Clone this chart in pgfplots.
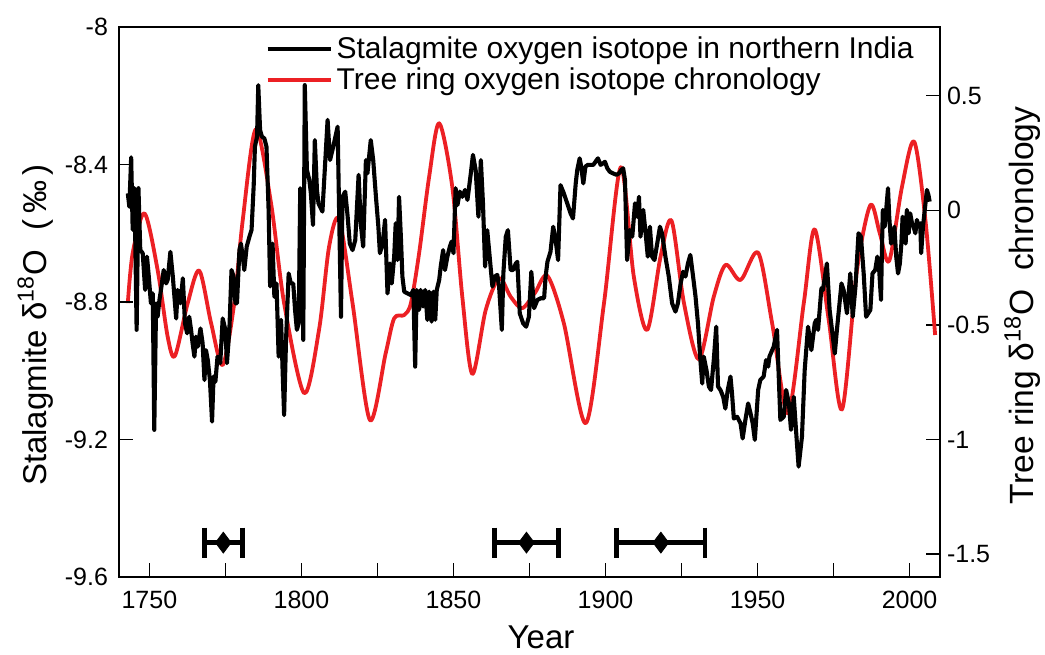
\documentclass[border=0pt]{standalone}
\usepackage{fontspec}
\setmainfont{Liberation Sans}
\usepackage{pgfplots}
\pgfplotsset{compat=1.18}
\definecolor{trred}{RGB}{236,32,36}

\pgfplotstableread{
yr val
1742.9 -0.405
1744.5 -0.187
1748.4 -0.013
1752.7 -0.26
1756.0 -0.551
1758.4 -0.635
1762.6 -0.405
1766.4 -0.263
1770.3 -0.493
1774.1 -0.675
1777.9 -0.405
1780.7 -0.042
1785.0 0.354
1790.0 0.031
1794.3 -0.405
1800.9 -0.798
1805.8 -0.52
1809.1 -0.158
1812.4 -0.039
1816.8 -0.405
1822.5 -0.915
1827.7 -0.624
1830.5 -0.471
1833.8 -0.457
1836.0 -0.405
1838.7 -0.187
1842.0 0.147
1845.3 0.380
1849.6 0.103
1852.9 -0.377
1856.2 -0.714
1860.6 -0.435
1865.0 -0.297
1868.8 -0.377
1872.6 -0.427
1876.8 -0.36
1880.9 -0.286
1886.3 -0.493
1893.5 -0.929
1899.5 -0.405
1905.0 0.188
1909.3 -0.289
1913.7 -0.522
1918.1 -0.202
1921.7 -0.045
1925.8 -0.405
1930.7 -0.650
1935.6 -0.377
1939.5 -0.238
1944.4 -0.304
1950.2 -0.185
1954.8 -0.493
1960.0 -0.886
1965.2 -0.405
1968.8 -0.083
1973.4 -0.478
1977.8 -0.868
1982.7 -0.26
1987.1 0.023
1990.2 -0.10
1993.3 -0.220
1997.5 0.103
2001.5 0.300
2005.2 -0.042
2008.4 -0.544
}\treering

\pgfplotstableread{
yr val
1742.9 -8.484
1743.4 -8.523
1744.0 -8.379
1744.5 -8.590
1745.1 -8.469
1745.8 -8.881
1746.4 -8.469
1747.0 -8.649
1747.8 -8.658
1748.6 -8.765
1749.2 -8.668
1749.8 -8.726
1750.5 -8.804
1751.1 -8.775
1751.6 -9.172
1752.2 -8.804
1752.7 -8.843
1753.3 -8.794
1753.8 -8.765
1754.7 -8.707
1755.5 -8.746
1756.0 -8.736
1756.9 -8.654
1757.7 -8.726
1758.8 -8.848
1759.3 -8.765
1760.2 -8.804
1761.0 -8.731
1761.7 -8.862
1762.4 -8.891
1763.1 -8.843
1763.7 -8.881
1764.2 -8.920
1764.8 -8.959
1765.3 -8.901
1765.9 -8.930
1766.8 -8.877
1767.5 -8.920
1768.1 -9.027
1768.6 -8.940
1769.2 -8.969
1769.9 -9.027
1770.6 -9.148
1771.1 -9.017
1771.7 -9.032
1772.4 -8.959
1773.3 -8.978
1774.1 -8.848
1775.0 -8.881
1775.5 -8.978
1776.3 -8.881
1777.0 -8.707
1777.7 -8.726
1778.3 -8.804
1778.8 -8.804
1779.6 -8.649
1780.1 -8.630
1780.7 -8.668
1781.2 -8.707
1782.0 -8.639
1782.9 -8.610
1783.6 -8.590
1784.3 -8.460
1784.7 -8.348
1785.4 -8.319
1785.8 -8.169
1786.4 -8.300
1787.0 -8.319
1787.8 -8.324
1788.5 -8.348
1789.2 -8.532
1789.7 -8.755
1790.5 -8.630
1791.1 -8.785
1791.8 -8.746
1792.5 -8.959
1793.3 -8.852
1793.8 -8.998
1794.3 -9.129
1794.9 -8.920
1795.4 -8.804
1795.8 -8.717
1796.5 -8.746
1797.3 -8.746
1797.9 -8.823
1798.5 -8.881
1799.1 -8.862
1799.6 -8.469
1800.2 -8.494
1800.6 -8.910
1801.1 -8.169
1801.8 -8.416
1802.6 -8.445
1803.1 -8.484
1803.8 -8.576
1804.4 -8.329
1805.1 -8.474
1805.6 -8.513
1806.9 -8.537
1808.6 -8.270
1809.4 -8.387
1810.2 -8.358
1811.9 -8.290
1812.4 -8.542
1813.0 -8.843
1813.5 -8.494
1814.4 -8.479
1815.2 -8.552
1815.9 -8.630
1816.8 -8.649
1817.7 -8.620
1818.8 -8.430
1819.5 -8.571
1820.3 -8.639
1821.2 -8.387
1821.7 -8.426
1822.8 -8.329
1823.6 -8.387
1824.5 -8.494
1825.3 -8.581
1825.8 -8.658
1826.7 -8.630
1827.5 -8.561
1828.3 -8.775
1829.1 -8.688
1829.7 -8.746
1830.5 -8.668
1831.0 -8.571
1831.6 -8.678
1832.1 -8.494
1832.7 -8.610
1833.2 -8.726
1833.8 -8.770
1834.9 -8.775
1836.0 -8.780
1836.8 -8.765
1837.4 -8.988
1837.9 -8.765
1838.7 -8.823
1839.2 -8.765
1840.0 -8.813
1840.7 -8.765
1841.4 -8.852
1842.0 -8.770
1842.8 -8.857
1843.4 -8.770
1844.0 -8.852
1844.5 -8.765
1845.3 -8.736
1845.8 -8.697
1846.6 -8.649
1847.2 -8.707
1848.0 -8.668
1848.8 -8.639
1849.4 -8.624
1850.0 -8.658
1850.7 -8.469
1851.3 -8.518
1852.1 -8.479
1852.9 -8.494
1853.8 -8.474
1854.6 -8.503
1855.7 -8.426
1856.4 -8.372
1857.3 -8.416
1858.2 -8.552
1859.0 -8.387
1859.7 -8.513
1860.4 -8.697
1861.1 -8.591
1861.9 -8.668
1862.8 -8.755
1863.6 -8.726
1864.4 -8.721
1865.0 -8.755
1865.9 -8.881
1866.4 -8.717
1867.2 -8.610
1867.9 -8.591
1868.8 -8.707
1869.6 -8.707
1870.5 -8.688
1871.0 -8.683
1871.8 -8.833
1872.9 -8.862
1873.9 -8.872
1874.8 -8.843
1875.6 -8.712
1876.5 -8.818
1877.6 -8.794
1878.7 -8.789
1879.8 -8.789
1880.3 -8.726
1880.9 -8.683
1881.9 -8.654
1882.8 -8.581
1883.6 -8.620
1884.4 -8.678
1885.2 -8.460
1886.3 -8.484
1887.4 -8.513
1888.5 -8.542
1889.3 -8.557
1890.2 -8.455
1890.7 -8.416
1891.5 -8.382
1892.0 -8.406
1892.7 -8.455
1893.4 -8.406
1894.2 -8.401
1895.1 -8.401
1896.0 -8.401
1896.7 -8.392
1897.5 -8.382
1898.4 -8.401
1899.1 -8.397
1899.8 -8.392
1900.6 -8.411
1901.4 -8.421
1902.5 -8.426
1903.6 -8.430
1904.4 -8.426
1905.2 -8.416
1905.8 -8.411
1906.4 -8.445
1907.1 -8.678
1908.0 -8.591
1908.8 -8.610
1909.7 -8.513
1910.4 -8.552
1911.0 -8.494
1911.5 -8.610
1912.4 -8.532
1913.2 -8.601
1913.9 -8.668
1914.6 -8.581
1915.3 -8.668
1916.1 -8.678
1917.0 -8.630
1917.9 -8.581
1918.6 -8.601
1919.7 -8.668
1920.8 -8.726
1921.9 -8.804
1923.0 -8.828
1923.8 -8.804
1924.7 -8.746
1925.5 -8.712
1926.3 -8.726
1927.1 -8.688
1927.9 -8.663
1928.8 -8.726
1929.6 -8.784
1930.4 -8.862
1931.2 -8.969
1931.8 -9.037
1932.3 -8.959
1933.2 -8.998
1934.0 -9.046
1934.7 -9.056
1935.6 -8.969
1936.4 -8.872
1937.0 -9.046
1937.8 -9.056
1938.7 -9.076
1939.4 -9.110
1940.2 -9.056
1941.1 -9.017
1941.6 -9.066
1942.2 -9.139
1943.3 -9.134
1944.4 -9.153
1945.1 -9.197
1946.0 -9.143
1946.9 -9.095
1947.7 -9.124
1948.4 -9.153
1949.1 -9.201
1950.2 -9.056
1950.9 -9.027
1952.0 -9.017
1952.8 -8.969
1953.5 -8.988
1953.9 -8.959
1955.3 -8.930
1956.4 -8.881
1957.5 -9.143
1958.6 -9.134
1959.4 -9.056
1960.3 -9.095
1961.0 -9.172
1961.9 -9.076
1962.8 -9.192
1963.5 -9.279
1964.6 -9.192
1965.5 -8.998
1966.6 -8.872
1967.7 -8.940
1968.8 -8.862
1969.3 -8.852
1969.9 -8.881
1971.0 -8.760
1971.5 -8.765
1972.8 -8.688
1973.7 -8.823
1975.4 -8.950
1976.1 -8.881
1977.6 -8.746
1978.3 -8.765
1979.4 -8.833
1980.5 -8.717
1981.3 -8.843
1982.2 -8.755
1983.2 -8.600
1984.0 -8.610
1984.9 -8.717
1985.7 -8.843
1987.1 -8.823
1987.8 -8.717
1988.7 -8.707
1989.4 -8.668
1990.0 -8.707
1990.6 -8.794
1990.9 -8.649
1991.2 -8.532
1991.8 -8.581
1992.3 -8.532
1992.9 -8.469
1993.3 -8.552
1993.9 -8.630
1994.4 -8.620
1995.0 -8.581
1995.6 -8.668
1996.2 -8.717
1996.8 -8.688
1997.3 -8.630
1997.7 -8.552
1998.2 -8.561
1998.7 -8.630
1999.1 -8.532
1999.7 -8.600
2000.2 -8.542
2000.8 -8.571
2001.3 -8.581
2001.9 -8.600
2002.4 -8.561
2002.9 -8.581
2003.5 -8.571
2003.8 -8.658
2004.4 -8.581
2005.1 -8.523
2005.7 -8.474
2006.2 -8.489
2006.6 -8.508
}\stalag

\begin{document}
\begin{tikzpicture}
\pgfplotsset{
  common/.style={
    scale only axis, width=410.5pt, height=275pt,
    xmin=1740, xmax=2010,
    tick align=inside,
    major tick length=7pt, minor tick length=7pt,
    every tick/.style={line width=0.6pt, black},
    axis line style={line width=0.6pt},
    /pgf/number format/assume math mode=true,
  }
}
% right axis : tree ring
\begin{axis}[common,
  ymin=-1.6, ymax=0.8,
  axis x line=none,
  axis y line*=right,
  ytick={-1.5,-1,-0.5,0,0.5},
  yticklabels={-1.5,-1,-0.5,0,0.5},
  yticklabel style={font=\fontsize{12.5}{15}\selectfont},
  ylabel={Tree ring δ\textsuperscript{18}O\ \ chronology},
  ylabel style={font=\fontsize{16.8}{19}\selectfont, at={(axis description cs:1.10,0.494)}, anchor=center, rotate=0},
]
\addplot[trred, line width=1.9pt, smooth, line join=round] table[x=yr,y=val] {\treering};
\end{axis}
% left axis : stalagmite
\begin{axis}[common, name=main,
  ymin=-9.6, ymax=-8,
  xtick pos=bottom, ytick pos=left,
  xtick={1750,1800,1850,1900,1950,2000},
  xticklabels={1750,1800,1850,1900,1950,2000},
  minor xtick={1775,1825,1875,1925,1975},
  ytick={-9.6,-9.2,-8.8,-8.4,-8},
  yticklabels={-9.6,-9.2,-8.8,-8.4,-8},
  xticklabel style={font=\fontsize{12.5}{15}\selectfont, yshift=-3.5pt},
  yticklabel style={font=\fontsize{12.5}{15}\selectfont, xshift=-2pt},
  xlabel={Year},
  xlabel style={font=\fontsize{16.5}{19}\selectfont, at={(axis description cs:0.514,-0.109)}, anchor=center},
  ylabel={Stalagmite δ\textsuperscript{18}O\hspace{0.6em}(\,‰\,)},
  ylabel style={font=\fontsize{16.5}{19}\selectfont, at={(axis description cs:-0.102,0.458)}, anchor=center},
  legend cell align=left,
  legend style={draw=none, fill=none, at={(rel axis cs:0.178,0.99)}, anchor=north west,
    font=\fontsize{15}{18}\selectfont, inner sep=0pt, row sep=-1pt},
  legend image code/.code={\draw[#1] (0pt,0pt) -- (31.5pt,0pt);},
]
\addplot[black, line width=2.05pt, line join=round] table[x=yr,y=val] {\stalag};
\addlegendentry{Stalagmite oxygen isotope in northern India}
\addlegendimage{trred, line width=2.05pt}
\addlegendentry{Tree ring oxygen isotope chronology}
% dating error bars (range and caps)
\addplot[black, line width=2.4pt, forget plot, unbounded coords=jump] coordinates {
  (1768.0,-9.5) (1780.6,-9.5) (nan,nan)
  (1768.0,-9.456) (1768.0,-9.544) (nan,nan)
  (1780.6,-9.456) (1780.6,-9.544) (nan,nan)
  (1863.5,-9.5) (1884.5,-9.5) (nan,nan)
  (1863.5,-9.456) (1863.5,-9.544) (nan,nan)
  (1884.5,-9.456) (1884.5,-9.544) (nan,nan)
  (1903.7,-9.5) (1932.7,-9.5) (nan,nan)
  (1903.7,-9.456) (1903.7,-9.544) (nan,nan)
  (1932.7,-9.456) (1932.7,-9.544)
};
\addplot[black, only marks, mark=diamond*, mark size=5.2pt, mark options={line width=0.4pt}, forget plot]
  coordinates {(1774.3,-9.5) (1874.0,-9.5) (1918.2,-9.5)};
\end{axis}
\pgfresetboundingbox
\path ([xshift=-59.5pt,yshift=-38.5pt]main.south west) rectangle ([xshift=52.5pt,yshift=13.5pt]main.north east);
\end{tikzpicture}
\end{document}
